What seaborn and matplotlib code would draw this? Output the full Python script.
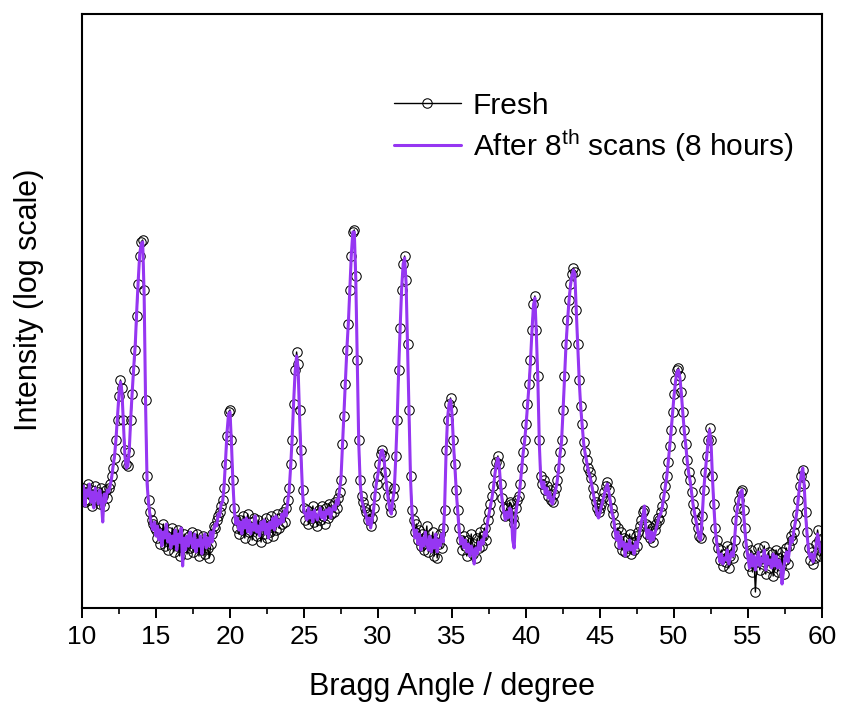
import numpy as np
import pandas as pd
import matplotlib
matplotlib.use("Agg")
import matplotlib.pyplot as plt
import seaborn as sns
from matplotlib.ticker import MultipleLocator, NullLocator

# scan positions (2-theta, degree), instrument step 0.1
two_theta = np.round(np.arange(10.0, 60.001, 0.1), 1)

# log10(intensity), one row per degree
fresh_log = [
    2.52, 2.56, 2.49, 2.54, 2.58, 2.50, 2.55, 2.47, 2.53, 2.57,
    2.50, 2.54, 2.48, 2.56, 2.52, 2.47, 2.55, 2.51, 2.56, 2.58,
    2.62, 2.66, 2.71, 2.80, 2.90, 3.02, 3.10, 3.06, 2.90, 2.75,
    2.68, 2.67, 2.74, 2.90, 3.03, 3.15, 3.25, 3.42, 3.58, 3.72,
    3.79, 3.80, 3.55, 3.00, 2.62, 2.50, 2.44, 2.40, 2.38, 2.36,
    2.35, 2.31, 2.36, 2.28, 2.33, 2.38, 2.27, 2.32, 2.25, 2.34,
    2.29, 2.36, 2.24, 2.31, 2.27, 2.35, 2.22, 2.30, 2.26, 2.33,
    2.28, 2.23, 2.32, 2.26, 2.34, 2.24, 2.30, 2.27, 2.33, 2.22,
    2.29, 2.25, 2.32, 2.23, 2.30, 2.26, 2.21, 2.28, 2.33, 2.37,
    2.36, 2.40, 2.42, 2.44, 2.47, 2.50, 2.56, 2.68, 2.82, 2.94,
    2.95, 2.80, 2.60, 2.46, 2.40, 2.36, 2.33, 2.40, 2.35, 2.42,
    2.31, 2.38, 2.43, 2.34, 2.39, 2.30, 2.41, 2.36, 2.32, 2.40,
    2.35, 2.29, 2.38, 2.33, 2.41, 2.31, 2.37, 2.34, 2.42, 2.32,
    2.39, 2.35, 2.43, 2.36, 2.41, 2.38, 2.44, 2.39, 2.46, 2.50,
    2.56, 2.68, 2.80, 2.98, 3.15, 3.24, 3.18, 2.95, 2.75, 2.55,
    2.46, 2.40, 2.45, 2.38, 2.44, 2.41, 2.47, 2.39, 2.43, 2.37,
    2.45, 2.40, 2.47, 2.42, 2.38, 2.46, 2.41, 2.48, 2.43, 2.47,
    2.44, 2.49, 2.46, 2.51, 2.54, 2.60, 2.78, 2.92, 3.08, 3.25,
    3.38, 3.55, 3.72, 3.84, 3.85, 3.62, 3.20, 2.80, 2.60, 2.52,
    2.49, 2.46, 2.44, 2.40, 2.43, 2.37, 2.41, 2.46, 2.52, 2.58,
    2.62, 2.68, 2.73, 2.75, 2.72, 2.64, 2.57, 2.52, 2.47, 2.44,
    2.52, 2.56, 2.72, 2.90, 3.15, 3.36, 3.55, 3.68, 3.72, 3.60,
    3.28, 2.95, 2.62, 2.45, 2.40, 2.34, 2.38, 2.30, 2.35, 2.27,
    2.33, 2.25, 2.31, 2.37, 2.24, 2.30, 2.27, 2.34, 2.22, 2.29,
    2.21, 2.28, 2.33, 2.26, 2.36, 2.45, 2.75, 2.90, 2.98, 3.01,
    2.95, 2.80, 2.68, 2.55, 2.45, 2.36, 2.30, 2.25, 2.32, 2.27,
    2.22, 2.30, 2.25, 2.33, 2.23, 2.28, 2.21, 2.31, 2.26, 2.34,
    2.27, 2.32, 2.36, 2.30, 2.40, 2.44, 2.48, 2.52, 2.57, 2.64,
    2.69, 2.72, 2.68, 2.58, 2.51, 2.46, 2.42, 2.46, 2.43, 2.49,
    2.48, 2.41, 2.38, 2.46, 2.50, 2.52, 2.58, 2.66, 2.74, 2.80,
    2.88, 2.98, 3.08, 3.20, 3.35, 3.48, 3.52, 3.35, 3.12, 2.80,
    2.62, 2.58, 2.60, 2.55, 2.57, 2.52, 2.55, 2.50, 2.49, 2.53,
    2.56, 2.60, 2.66, 2.74, 2.80, 2.95, 3.12, 3.28, 3.40, 3.50,
    3.58, 3.63, 3.66, 3.64, 3.45, 3.28, 3.10, 2.97, 2.88, 2.79,
    2.74, 2.70, 2.66, 2.64, 2.61, 2.56, 2.52, 2.49, 2.46, 2.44,
    2.46, 2.48, 2.51, 2.54, 2.57, 2.59, 2.55, 2.50, 2.46, 2.43,
    2.38, 2.33, 2.36, 2.28, 2.34, 2.25, 2.31, 2.24, 2.30, 2.26,
    2.33, 2.23, 2.29, 2.25, 2.32, 2.27, 2.34, 2.37, 2.40, 2.44,
    2.45, 2.38, 2.33, 2.37, 2.31, 2.36, 2.29, 2.35, 2.38, 2.41,
    2.40, 2.44, 2.47, 2.52, 2.57, 2.62, 2.69, 2.77, 2.85, 2.94,
    3.03, 3.10, 3.15, 3.16, 3.12, 3.04, 2.94, 2.85, 2.78, 2.70,
    2.64, 2.60, 2.54, 2.48, 2.44, 2.40, 2.36, 2.32, 2.31, 2.42,
    2.55, 2.64, 2.72, 2.80, 2.86, 2.80, 2.62, 2.48, 2.36, 2.30,
    2.26, 2.20, 2.25, 2.17, 2.23, 2.19, 2.27, 2.16, 2.22, 2.26,
    2.21, 2.30, 2.40, 2.46, 2.50, 2.54, 2.55, 2.45, 2.36, 2.28,
    2.23, 2.17, 2.25, 2.14, 2.21, 2.04, 2.19, 2.26, 2.15, 2.22,
    2.18, 2.27, 2.13, 2.20, 2.24, 2.16, 2.23, 2.12, 2.19, 2.25,
    2.14, 2.21, 2.17, 2.24, 2.13, 2.20, 2.26, 2.18, 2.27, 2.32,
    2.30, 2.34, 2.38, 2.43, 2.50, 2.57, 2.62, 2.65, 2.58, 2.44,
    2.34, 2.26, 2.20, 2.24, 2.18, 2.21, 2.28, 2.35, 2.30, 2.22,
    2.26,
]

aged_log = [
    2.50, 2.57, 2.47, 2.55, 2.52, 2.58, 2.49, 2.54, 2.46, 2.56,
    2.52, 2.48, 2.55, 2.50, 2.39, 2.53, 2.49, 2.55, 2.54, 2.57,
    2.61, 2.67, 2.72, 2.81, 2.92, 3.03, 3.09, 3.04, 2.88, 2.72,
    2.66, 2.67, 2.76, 2.92, 3.05, 3.17, 3.28, 3.45, 3.60, 3.73,
    3.78, 3.79, 3.52, 2.96, 2.58, 2.48, 2.42, 2.37, 2.35, 2.39,
    2.32, 2.37, 2.30, 2.35, 2.27, 2.34, 2.31, 2.38, 2.29, 2.33,
    2.26, 2.32, 2.28, 2.35, 2.25, 2.33, 2.29, 2.36, 2.17, 2.31,
    2.25, 2.32, 2.27, 2.34, 2.29, 2.26, 2.33, 2.24, 2.30, 2.27,
    2.32, 2.23, 2.29, 2.33, 2.26, 2.31, 2.27, 2.34, 2.29, 2.35,
    2.38, 2.37, 2.43, 2.42, 2.48, 2.49, 2.57, 2.70, 2.84, 2.93,
    2.94, 2.78, 2.58, 2.44, 2.38, 2.41, 2.35, 2.39, 2.33, 2.40,
    2.36, 2.41, 2.34, 2.40, 2.33, 2.38, 2.35, 2.42, 2.34, 2.37,
    2.32, 2.39, 2.35, 2.40, 2.33, 2.38, 2.31, 2.39, 2.36, 2.41,
    2.35, 2.42, 2.37, 2.40, 2.38, 2.43, 2.39, 2.45, 2.42, 2.49,
    2.55, 2.67, 2.81, 2.99, 3.14, 3.22, 3.16, 2.92, 2.72, 2.54,
    2.44, 2.43, 2.40, 2.46, 2.41, 2.44, 2.39, 2.45, 2.42, 2.40,
    2.43, 2.46, 2.41, 2.44, 2.40, 2.45, 2.43, 2.46, 2.41, 2.45,
    2.47, 2.45, 2.50, 2.48, 2.55, 2.61, 2.77, 2.93, 3.09, 3.26,
    3.39, 3.56, 3.73, 3.84, 3.84, 3.60, 3.18, 2.78, 2.58, 2.50,
    2.47, 2.44, 2.42, 2.38, 2.41, 2.36, 2.40, 2.45, 2.53, 2.59,
    2.63, 2.69, 2.74, 2.75, 2.71, 2.63, 2.56, 2.50, 2.45, 2.43,
    2.50, 2.55, 2.71, 2.91, 3.16, 3.37, 3.56, 3.68, 3.71, 3.58,
    3.25, 2.92, 2.60, 2.43, 2.36, 2.31, 2.35, 2.28, 2.33, 2.25,
    2.31, 2.27, 2.34, 2.29, 2.25, 2.32, 2.24, 2.30, 2.26, 2.33,
    2.24, 2.30, 2.27, 2.33, 2.29, 2.46, 2.74, 2.91, 2.98, 3.00,
    2.93, 2.78, 2.66, 2.53, 2.43, 2.33, 2.28, 2.31, 2.26, 2.30,
    2.24, 2.28, 2.22, 2.27, 2.25, 2.18, 2.26, 2.23, 2.29, 2.25,
    2.30, 2.28, 2.34, 2.32, 2.39, 2.43, 2.47, 2.51, 2.56, 2.63,
    2.68, 2.71, 2.66, 2.56, 2.49, 2.44, 2.40, 2.44, 2.41, 2.46,
    2.45, 2.30, 2.26, 2.42, 2.48, 2.51, 2.57, 2.65, 2.73, 2.79,
    2.87, 2.97, 3.07, 3.19, 3.34, 3.47, 3.51, 3.33, 3.10, 2.78,
    2.60, 2.56, 2.59, 2.53, 2.56, 2.51, 2.54, 2.49, 2.48, 2.52,
    2.55, 2.59, 2.65, 2.73, 2.79, 2.94, 3.11, 3.27, 3.39, 3.49,
    3.57, 3.62, 3.65, 3.63, 3.44, 3.27, 3.09, 2.96, 2.87, 2.78,
    2.73, 2.69, 2.65, 2.62, 2.59, 2.55, 2.51, 2.47, 2.43, 2.41,
    2.44, 2.47, 2.50, 2.53, 2.56, 2.58, 2.54, 2.49, 2.44, 2.41,
    2.36, 2.30, 2.34, 2.26, 2.32, 2.27, 2.29, 2.22, 2.28, 2.25,
    2.30, 2.25, 2.27, 2.23, 2.29, 2.26, 2.31, 2.35, 2.39, 2.42,
    2.47, 2.36, 2.31, 2.35, 2.29, 2.34, 2.30, 2.33, 2.36, 2.39,
    2.42, 2.43, 2.46, 2.51, 2.56, 2.61, 2.68, 2.76, 2.84, 2.93,
    3.02, 3.09, 3.14, 3.15, 3.11, 3.03, 2.93, 2.84, 2.77, 2.69,
    2.63, 2.59, 2.53, 2.47, 2.43, 2.39, 2.35, 2.31, 2.30, 2.41,
    2.54, 2.63, 2.71, 2.79, 2.85, 2.79, 2.61, 2.46, 2.34, 2.28,
    2.24, 2.19, 2.23, 2.18, 2.21, 2.20, 2.25, 2.18, 2.21, 2.24,
    2.22, 2.31, 2.41, 2.47, 2.51, 2.54, 2.55, 2.44, 2.34, 2.26,
    2.21, 2.16, 2.23, 2.17, 2.22, 2.15, 2.20, 2.24, 2.17, 2.21,
    2.19, 2.25, 2.15, 2.22, 2.18, 2.20, 2.16, 2.23, 2.17, 2.22,
    2.16, 2.20, 2.18, 2.08, 2.15, 2.21, 2.24, 2.19, 2.25, 2.31,
    2.29, 2.35, 2.39, 2.44, 2.51, 2.58, 2.63, 2.66, 2.57, 2.42,
    2.32, 2.24, 2.21, 2.23, 2.19, 2.22, 2.27, 2.33, 2.29, 2.24,
    2.25,
]

series_labels = ["Fresh", r"After 8$^{\mathrm{th}}$ scans (8 hours)"]
x_ticks = [10, 15, 20, 25, 30, 35, 40, 45, 50, 55, 60]

df = pd.DataFrame({
    "angle": two_theta,
    "fresh": np.power(10.0, np.array(fresh_log)),
    "aged": np.power(10.0, np.array(aged_log)),
})

sns.set_style("ticks")
plt.rcParams["font.family"] = ["Liberation Sans", "DejaVu Sans"]
plt.rcParams["mathtext.fontset"] = "custom"
plt.rcParams["mathtext.rm"] = "Liberation Sans"
plt.rcParams["mathtext.it"] = "Liberation Sans:italic"
plt.rcParams["mathtext.bf"] = "Liberation Sans:bold"
plt.rcParams["text.color"] = "black"
plt.rcParams["axes.labelcolor"] = "black"
plt.rcParams["xtick.color"] = "black"
plt.rcParams["ytick.color"] = "black"

purple = "#9636F2"

fig = plt.figure(figsize=(8.41, 7.06), dpi=100)
ax = fig.add_axes([82 / 841, 1 - 608 / 706, 740 / 841, 594 / 706])

sns.lineplot(data=df, x="angle", y="fresh", ax=ax, estimator=None, sort=False,
             color="black", linewidth=1.0, marker="o", markersize=6.8,
             markerfacecolor="none", markeredgecolor="black",
             markeredgewidth=0.75, label=series_labels[0])
sns.lineplot(data=df, x="angle", y="aged", ax=ax, estimator=None, sort=False,
             color=purple, linewidth=2.2, label=series_labels[1])

ax.set_yscale("log")
ax.set_xlim(10, 60)
ax.set_ylim(10 ** 1.96, 10 ** 4.93)
ax.yaxis.set_major_locator(NullLocator())
ax.yaxis.set_minor_locator(NullLocator())
ax.set_xticks(x_ticks)
ax.xaxis.set_minor_locator(MultipleLocator(2.5))
ax.tick_params(axis="x", which="major", direction="out", length=7, width=1.4,
               labelsize=19, pad=5, colors="black")
ax.tick_params(axis="x", which="minor", direction="out", length=4, width=1.2)
for sp in ax.spines.values():
    sp.set_visible(True)
    sp.set_linewidth(1.5)
    sp.set_color("black")
ax.grid(False)

ax.set_xlabel("Bragg Angle / degree", fontsize=22, labelpad=17)
ax.set_ylabel("Intensity (log scale)", fontsize=22)
ax.yaxis.set_label_coords(-0.052, 0.518)

leg = ax.legend(loc="upper left", bbox_to_anchor=(0.405, 0.889), frameon=False,
                fontsize=21.5, handlelength=2.25, handletextpad=0.4,
                labelspacing=0.25, borderaxespad=0.0, numpoints=1)

fig.savefig("out.png", dpi=100)
